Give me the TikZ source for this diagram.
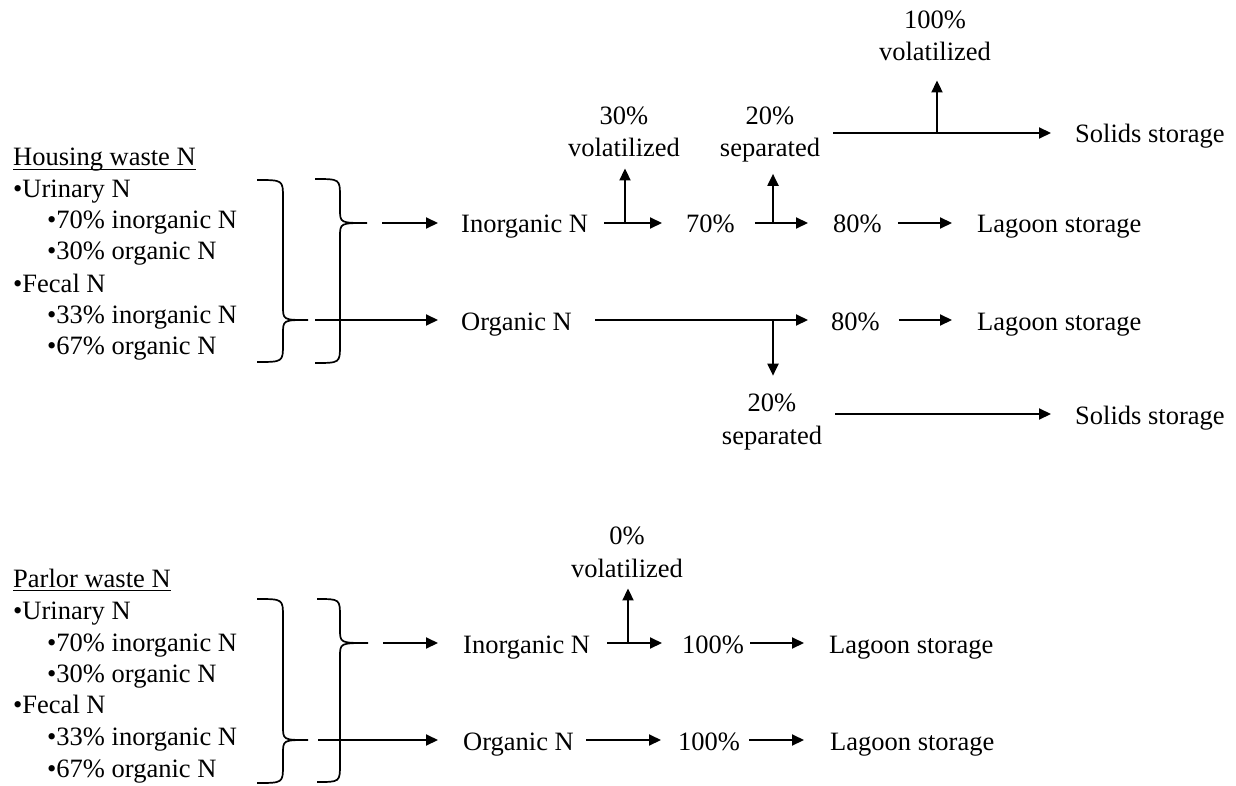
\documentclass[tikz,border=0pt]{standalone}
\usepackage{fontspec}
\setmainfont{Liberation Serif}
\usetikzlibrary{arrows.meta}
\newcommand{\mybrace}[7]{%
  \draw[bracesty] (#1,#4) .. controls (#2,#4) .. (#2,#4+18) -- (#2,#5-14)
    .. controls (#2,#5) .. (#3,#5) .. controls (#2,#5) .. (#2,#5+14)
    -- (#2,#6-18) .. controls (#2,#6) .. (#1,#6);
  \coordinate (#7) at (#3,#5);}
\begin{document}
\begin{tikzpicture}[x=1pt,y=-1pt,
  font=\fontsize{26.5}{31.5}\selectfont,
  lab/.style={inner sep=0pt,text height=20pt,text depth=0pt,anchor=west},
  item/.style={inner sep=0pt,anchor=base west},
  two/.style={inner sep=0pt,anchor=base,align=center,font=\fontsize{26.5}{32.5}\selectfont},
  arr/.style={line width=2pt,-{Triangle[length=12pt,width=11pt]}},
  plain/.style={line width=2pt},
  bracesty/.style={line width=1.7pt},
  uline/.style={line width=1.3pt}]
\path[fill=white] (0,0) rectangle (1236,786);
\useasboundingbox (0,0) rectangle (1236,786);

% ---------------- Housing waste ----------------
\node[item] (h1) at (13,166) {Housing waste N};
\draw[uline] ([yshift=-3.5pt]h1.base west) -- ([yshift=-3.5pt]h1.base east);
\node[item] (h2) at (13,198) {•Urinary N};
\node[item] (h3) at (47,229) {•70\% inorganic N};
\node[item] (h4) at (47,260) {•30\% organic N};
\node[item] (h5) at (13,292) {•Fecal N};
\node[item] (h6) at (47,323) {•33\% inorganic N};
\node[item] (h7) at (47,354) {•67\% organic N};

\mybrace{257}{283}{308}{180}{320}{362}{bA1}
\mybrace{315}{340}{367}{179}{223}{363}{bA2}

\node[lab] (inA) at (461,223) {Inorganic N};
\node[lab] (p70) at (686,223) {70\%};
\node[lab] (p80a) at (833,223) {80\%};
\node[lab] (lagA) at (977,223) {Lagoon storage};
\node[lab] (orgA) at (461,320) {Organic N};
\node[lab] (p80b) at (831,320) {80\%};
\node[lab] (lagB) at (977,320) {Lagoon storage};
\node[lab] (solA) at (1075,133) {Solids storage};
\node[lab] (solB) at (1075,414) {Solids storage};

\node[two] (v100) at (935,61) {100\%\\volatilized};
\node[two] (v30) at (624,157) {30\%\\volatilized};
\node[two] (s20a) at (770,157) {20\%\\separated};
\node[two] (s20b) at (772,444) {20\%\\separated};

\draw[arr] ([xshift=15pt]bA2) -- ([xshift=-23pt]inA.west);
\draw[arr] ([xshift=7pt]bA1) -- ([xshift=-23pt]orgA.west);

\draw[arr] ([xshift=16pt]inA.east) -- ([xshift=-24pt]p70.west);
\draw[arr] ([xshift=20pt]p70.east) -- ([xshift=-25pt]p80a.west);
\draw[arr] ([xshift=16pt]p80a.east) -- ([xshift=-25pt]lagA.west);
\draw[arr] ([xshift=23pt]orgA.east) -- ([xshift=-23pt]p80b.west);
\draw[arr] ([xshift=19pt]p80b.east) -- ([xshift=-25pt]lagB.west);

\coordinate (jA) at (625,223);
\coordinate (jB) at (773,223);
\coordinate (jC) at (937,133);
\coordinate (jD) at (773,320);
\coordinate (sA) at (833,133);
\coordinate (sB) at (835,414);
\draw[arr,shorten >=11pt] (jA) -- (jA |- v30.south);
\draw[arr,shorten >=11pt] (jB) -- (jB |- s20a.south);
\draw[arr,shorten >=19pt] (jC) -- (jC |- v100.south);
\draw[arr,shorten >=18pt] (jD) -- (jD |- s20b.north);
\draw[arr] (sA) -- ([xshift=-24pt]solA.west);
\draw[arr] (sB) -- ([xshift=-24pt]solB.west);

% ---------------- Parlor waste ----------------
\node[item] (q1) at (13,587) {Parlor waste N};
\draw[uline] ([yshift=-3.5pt]q1.base west) -- ([yshift=-3.5pt]q1.base east);
\node[item] (q2) at (13,619) {•Urinary N};
\node[item] (q3) at (47,651) {•70\% inorganic N};
\node[item] (q4) at (47,682) {•30\% organic N};
\node[item] (q5) at (13,713) {•Fecal N};
\node[item] (q6) at (47,745) {•33\% inorganic N};
\node[item] (q7) at (47,777) {•67\% organic N};

\mybrace{257}{283}{308}{599}{740}{783}{bB1}
\mybrace{317}{340}{368}{599}{643}{782}{bB2}

\node[lab] (inB) at (463,643) {Inorganic N};
\node[lab] (p100a) at (682,643) {100\%};
\node[lab] (lagC) at (829,643) {Lagoon storage};
\node[lab] (orgB) at (463,740) {Organic N};
\node[lab] (p100b) at (678,740) {100\%};
\node[lab] (lagD) at (830,740) {Lagoon storage};
\node[two] (v0) at (627,577) {0\%\\volatilized};

\draw[arr] ([xshift=15pt]bB2) -- ([xshift=-25pt]inB.west);
\draw[arr] ([xshift=10pt]bB1) -- ([xshift=-25pt]orgB.west);
\draw[arr] ([xshift=17pt]inB.east) -- ([xshift=-20pt]p100a.west);
\draw[arr] ([xshift=6pt]p100a.east) -- ([xshift=-25pt]lagC.west);
\draw[arr] ([xshift=12pt]orgB.east) -- ([xshift=-17pt]p100b.west);
\draw[arr] ([xshift=9pt]p100b.east) -- ([xshift=-26pt]lagD.west);
\coordinate (jE) at (628,643);
\draw[arr,shorten >=11pt] (jE) -- (jE |- v0.south);
\end{tikzpicture}
\end{document}
